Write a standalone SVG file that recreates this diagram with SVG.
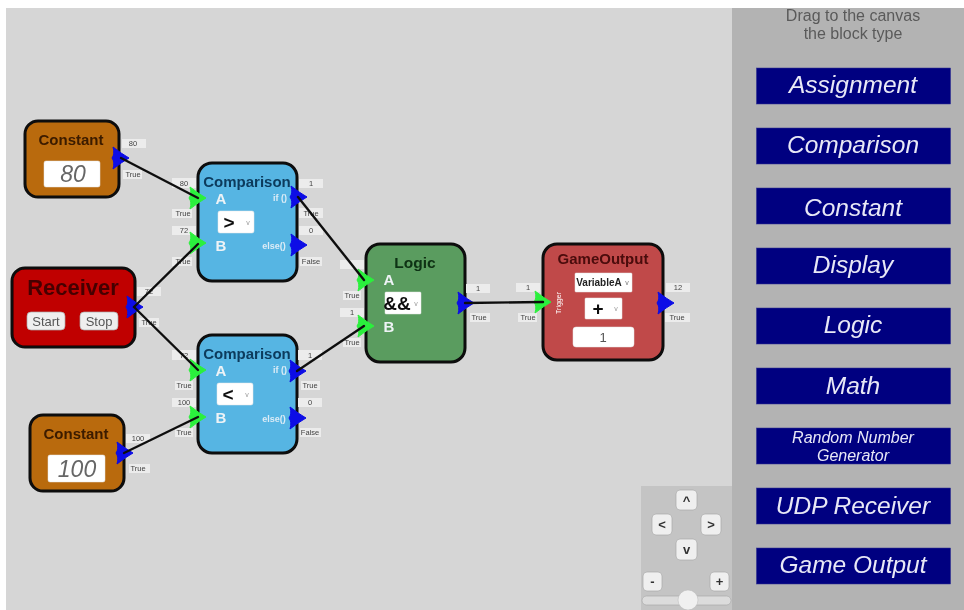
<svg xmlns="http://www.w3.org/2000/svg" xmlns:xlink="http://www.w3.org/1999/xlink" width="964" height="610" viewBox="0 0 964 610">
<style>
text{font-family:"Liberation Sans",Arial,sans-serif;text-anchor:middle}
.node{stroke:#0a0a0a;stroke-width:3}
.title{font-weight:bold}
.lb{fill:#ececec}
.lt{font-size:7.5px;fill:#444}
.inp{fill:#fff;stroke:#e4e4e4;stroke-width:.5}
.pin{fill:#eef3f6;font-weight:bold;font-size:15px}
.out{fill:#dcecf6;font-weight:bold;font-size:9px}
.lib{fill:#000080;stroke:#2a2a90;stroke-width:.5}
.libt{fill:#e8e8f6;font-style:italic;font-size:24.500px}
.btn{fill:#efefef;stroke:#aaa;stroke-width:.7}
.bt{font-weight:bold;font-size:13px;fill:#333}
.wire{stroke:#111;stroke-width:2.4;fill:none;stroke-linecap:round}
</style>
<defs>
<filter id="soft" x="-2%" y="-2%" width="104%" height="104%"><feGaussianBlur stdDeviation="0.55"/></filter>
<path id="pb" d="M9 0Q2 -4 -7 -11Q-5 -4 -8 0Q-5 4 -7 11Q2 4 9 0Z" fill="#0a0ae6" stroke="#0a0ae6" stroke-width="1"/>
<path id="pg" d="M9 0Q2 -4 -7 -11Q-5 -4 -8 0Q-5 4 -7 11Q2 4 9 0Z" fill="#2cf03c" stroke="#2cf03c" stroke-width="1"/>
</defs>
<rect width="964" height="610" fill="#fff"/>
<g filter="url(#soft)">
<rect id="canvas" x="6" y="8" width="726" height="602" fill="#d6d6d6"/>
<g id="sidebar">
<rect x="732" y="8" width="232" height="602" fill="#b3b3b3"/>
<text x="853" y="21" font-size="16" fill="#5a5a5a">Drag to the canvas</text>
<text x="853" y="39" font-size="16" fill="#5a5a5a">the block type</text>
</g>
<g id="lib-assignment"><rect class="lib" x="756.500" y="68" width="194" height="36"/><text class="libt" x="853" y="93">Assignment</text></g>
<g id="lib-comparison"><rect class="lib" x="756.500" y="128" width="194" height="36"/><text class="libt" x="853" y="153">Comparison</text></g>
<g id="lib-constant"><rect class="lib" x="756.500" y="188" width="194" height="36"/><text class="libt" x="853" y="216">Constant</text></g>
<g id="lib-display"><rect class="lib" x="756.500" y="248" width="194" height="36"/><text class="libt" x="853" y="273">Display</text></g>
<g id="lib-logic"><rect class="lib" x="756.500" y="308" width="194" height="36"/><text class="libt" x="853" y="333">Logic</text></g>
<g id="lib-math"><rect class="lib" x="756.500" y="368" width="194" height="36"/><text class="libt" x="853" y="394">Math</text></g>
<g id="lib-random"><rect class="lib" x="756.500" y="428" width="194" height="36"/><text class="libt" x="853" y="443" style="font-size:16px">Random Number</text><text class="libt" x="853" y="461" style="font-size:16px">Generator</text></g>
<g id="lib-udp"><rect class="lib" x="756.500" y="488" width="194" height="36"/><text class="libt" x="853" y="514">UDP Receiver</text></g>
<g id="lib-game"><rect class="lib" x="756.500" y="548" width="194" height="36"/><text class="libt" x="853" y="573">Game Output</text></g>

<g id="controls">
<rect x="641" y="486" width="91" height="124" fill="#c4c4c4"/>
<rect class="btn" x="676" y="490" width="21" height="20" rx="4"/><text class="bt" x="686.500" y="505">^</text>
<rect class="btn" x="652" y="514" width="20" height="21" rx="4"/><text class="bt" x="662" y="529">&lt;</text>
<rect class="btn" x="701" y="514" width="20" height="21" rx="4"/><text class="bt" x="711" y="529">&gt;</text>
<rect class="btn" x="676" y="539" width="21" height="21" rx="4"/><text class="bt" x="686.500" y="554">v</text>
<rect class="btn" x="643" y="572" width="19" height="19" rx="4"/><text class="bt" x="652.500" y="586">-</text>
<rect class="btn" x="710" y="572" width="19" height="19" rx="4"/><text class="bt" x="719.500" y="586">+</text>
<rect x="642" y="596" width="89" height="9" rx="4.500" fill="#dcdcdc" stroke="#aaa" stroke-width=".7"/>
<circle cx="688" cy="600" r="10" fill="#f0f0f0" stroke="#bbb" stroke-width=".5"/>
</g>

<g id="constant-80">
<rect class="node" x="25" y="121" width="94" height="76" rx="13" fill="#b96a0c"/>
<text class="title" x="71" y="145" font-size="15" fill="#3a1a00">Constant</text>
<rect class="inp" x="44" y="161" width="56" height="26" rx="2"/>
<text x="73" y="182" font-size="23" font-style="italic" fill="#666">80</text>
<rect class="lb" x="122" y="139" width="24" height="9"/><text class="lt" x="133" y="146">80</text>
<rect class="lb" x="123" y="170" width="19" height="9"/><text class="lt" x="133" y="177">True</text>
<use xlink:href="#pb" href="#pb" x="120" y="158"/>
</g>

<g id="receiver">
<rect class="node" x="12" y="268" width="123" height="79" rx="13" fill="#c00000"/>
<text class="title" x="73" y="295" font-size="22" fill="#450000">Receiver</text>
<rect class="btn" x="27" y="312" width="38" height="18" rx="4"/><text x="46" y="326" font-size="13" fill="#555">Start</text>
<rect class="btn" x="80" y="312" width="38" height="18" rx="4"/><text x="99" y="326" font-size="13" fill="#555">Stop</text>
<rect class="lb" x="137" y="287" width="24" height="9"/><text class="lt" x="149" y="294">72</text>
<rect class="lb" x="139" y="318" width="20" height="9"/><text class="lt" x="149" y="325">True</text>
<use xlink:href="#pb" href="#pb" x="134" y="307"/>
</g>

<g id="constant-100">
<rect class="node" x="30" y="415" width="94" height="76" rx="13" fill="#b96a0c"/>
<text class="title" x="76" y="439" font-size="15" fill="#3a1a00">Constant</text>
<rect class="inp" x="48" y="455" width="57" height="27" rx="2"/>
<text x="77" y="477" font-size="23" font-style="italic" fill="#666">100</text>
<rect class="lb" x="126" y="434" width="24" height="9"/><text class="lt" x="138" y="441">100</text>
<rect class="lb" x="129" y="464" width="21" height="9"/><text class="lt" x="138" y="471">True</text>
<use xlink:href="#pb" href="#pb" x="124" y="453"/>
</g>

<g id="comparison-1">
<rect class="node" x="198" y="163" width="99" height="118" rx="14" fill="#57b5e3"/>
<text class="title" x="247" y="187" font-size="15" fill="#0b3a5c">Comparison</text>
<text class="pin" x="221" y="204">A</text><text class="pin" x="221" y="251">B</text>
<text class="out" x="280" y="201">if ()</text><text class="out" x="274" y="249">else()</text>
<rect class="inp" x="218" y="211" width="36" height="22" rx="2"/>
<text x="229" y="229" font-size="19" font-weight="bold" fill="#111">&gt;</text><text x="248" y="225" font-size="7" fill="#999">v</text>
<rect class="lb" x="172" y="178" width="24" height="10"/><text class="lt" x="184" y="186">80</text>
<rect class="lb" x="172" y="209" width="20" height="9"/><text class="lt" x="183" y="216">True</text>
<rect class="lb" x="172" y="226" width="24" height="9"/><text class="lt" x="184" y="233">72</text>
<rect class="lb" x="172" y="257" width="20" height="9"/><text class="lt" x="183" y="264">True</text>
<rect class="lb" x="299" y="179" width="24" height="9"/><text class="lt" x="311" y="186">1</text>
<rect class="lb" x="299" y="208" width="24" height="10"/><text class="lt" x="311" y="216">True</text>
<rect class="lb" x="299" y="226" width="24" height="9"/><text class="lt" x="311" y="233">0</text>
<rect class="lb" x="300" y="257" width="22" height="9"/><text class="lt" x="311" y="264">False</text>
<use xlink:href="#pg" href="#pg" x="197" y="198"/><use xlink:href="#pg" href="#pg" x="197" y="243"/>
<use xlink:href="#pb" href="#pb" x="298" y="197"/><use xlink:href="#pb" href="#pb" x="298" y="245"/>
</g>

<g id="comparison-2">
<rect class="node" x="198" y="335" width="99" height="118" rx="14" fill="#57b5e3"/>
<text class="title" x="247" y="359" font-size="15" fill="#0b3a5c">Comparison</text>
<text class="pin" x="221" y="376">A</text><text class="pin" x="221" y="423">B</text>
<text class="out" x="280" y="373">if ()</text><text class="out" x="274" y="422">else()</text>
<rect class="inp" x="217" y="383" width="36" height="22" rx="2"/>
<text x="228" y="401" font-size="19" font-weight="bold" fill="#111">&lt;</text><text x="247" y="397" font-size="7" fill="#999">v</text>
<rect class="lb" x="172" y="350" width="24" height="10"/><text class="lt" x="184" y="358">72</text>
<rect class="lb" x="175" y="381" width="18" height="9"/><text class="lt" x="184" y="388">True</text>
<rect class="lb" x="172" y="398" width="24" height="9"/><text class="lt" x="184" y="405">100</text>
<rect class="lb" x="175" y="428" width="18" height="9"/><text class="lt" x="184" y="435">True</text>
<rect class="lb" x="298" y="350" width="24" height="10"/><text class="lt" x="310" y="358">1</text>
<rect class="lb" x="301" y="381" width="19" height="9"/><text class="lt" x="310" y="388">True</text>
<rect class="lb" x="298" y="398" width="24" height="9"/><text class="lt" x="310" y="405">0</text>
<rect class="lb" x="300" y="428" width="21" height="9"/><text class="lt" x="310" y="435">False</text>
<use xlink:href="#pg" href="#pg" x="197" y="370"/><use xlink:href="#pg" href="#pg" x="197" y="417"/>
<use xlink:href="#pb" href="#pb" x="297" y="371"/><use xlink:href="#pb" href="#pb" x="297" y="418"/>
</g>

<g id="logic">
<rect class="node" x="366" y="244" width="99" height="118" rx="14" fill="#5a9c5e"/>
<text class="title" x="415" y="268" font-size="15.500" fill="#0e3012">Logic</text>
<text class="pin" x="389" y="285">A</text><text class="pin" x="389" y="332">B</text>
<rect class="inp" x="385" y="292" width="36" height="22" rx="1"/>
<text x="397" y="310" font-size="19" font-weight="bold" fill="#111">&amp;&amp;</text><text x="416" y="306" font-size="7" fill="#999">v</text>
<rect class="lb" x="340" y="260" width="24" height="9"/>
<rect class="lb" x="343" y="291" width="18" height="9"/><text class="lt" x="352" y="298">True</text>
<rect class="lb" x="340" y="308" width="24" height="9"/><text class="lt" x="352" y="315">1</text>
<rect class="lb" x="343" y="338" width="18" height="9"/><text class="lt" x="352" y="345">True</text>
<rect class="lb" x="466" y="284" width="24" height="9"/><text class="lt" x="478" y="291">1</text>
<rect class="lb" x="470" y="313" width="20" height="9"/><text class="lt" x="479" y="320">True</text>
<use xlink:href="#pg" href="#pg" x="365" y="280"/><use xlink:href="#pg" href="#pg" x="365" y="326"/>
<use xlink:href="#pb" href="#pb" x="465" y="303"/>
</g>

<g id="game-output">
<rect class="node" x="543" y="244" width="120" height="116" rx="14" fill="#c04a4a"/>
<text class="title" x="603" y="264" font-size="15" fill="#4a0a0a">GameOutput</text>
<text transform="translate(561,303) rotate(-90)" font-size="7" fill="#fff">Trigger</text>
<rect class="inp" x="575" y="273" width="57" height="19" rx="1"/>
<text x="599" y="286" font-size="10" font-weight="bold" fill="#222">VariableA</text><text x="627" y="285" font-size="7" fill="#777">v</text>
<rect class="inp" x="585" y="298" width="37" height="21" rx="1"/>
<text x="598" y="315" font-size="19" font-weight="bold" fill="#111">+</text><text x="616" y="311" font-size="7" fill="#999">v</text>
<rect class="inp" x="573" y="327" width="61" height="20" rx="3"/>
<text x="603" y="342" font-size="13" fill="#555">1</text>
<rect class="lb" x="516" y="283" width="24" height="9"/><text class="lt" x="528" y="290">1</text>
<rect class="lb" x="518" y="313" width="19" height="9"/><text class="lt" x="528" y="320">True</text>
<rect class="lb" x="666" y="283" width="24" height="9"/><text class="lt" x="678" y="290">12</text>
<rect class="lb" x="665" y="313" width="25" height="9"/><text class="lt" x="677" y="320">True</text>
<use xlink:href="#pg" href="#pg" x="542" y="302"/>
<use xlink:href="#pb" href="#pb" x="665" y="303"/>
</g>

<g id="connectors">
<path class="wire" d="M121 158L198 198"/>
<path class="wire" d="M134 307L198 244"/>
<path class="wire" d="M134 307L198 370"/>
<path class="wire" d="M124 453L198 417"/>
<path class="wire" d="M298 197L364 280"/>
<path class="wire" d="M297 371L364 326"/>
<path class="wire" d="M465 303L543 302"/>
</g>
</g>
</svg>
